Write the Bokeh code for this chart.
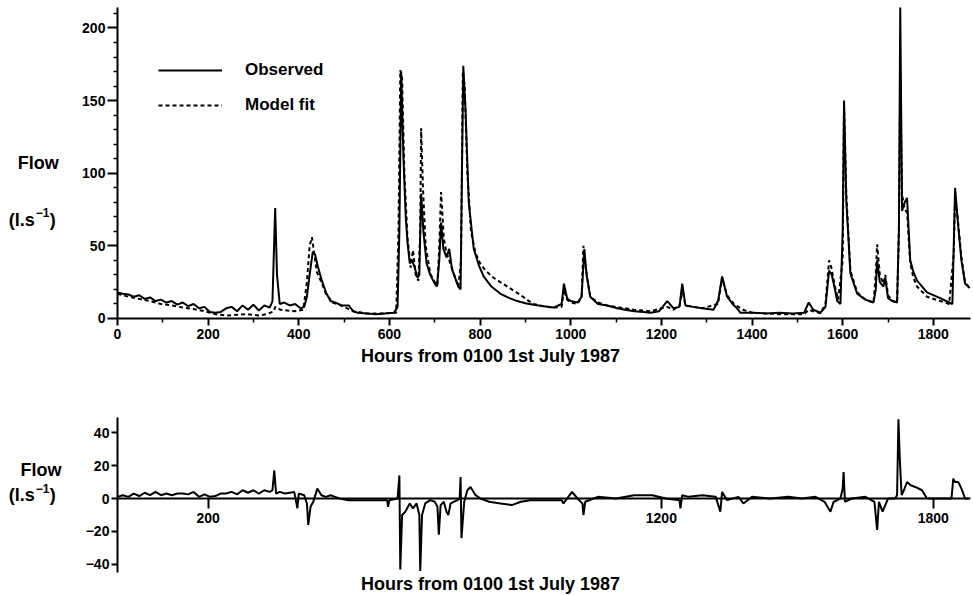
from bokeh.plotting import figure
from bokeh.layouts import column
from bokeh.models import Range1d, Label, Legend, LegendItem, FixedTicker
from bokeh.embed import file_html
from bokeh.resources import INLINE

# ---------------- data ----------------
obs_hours = [0, 12, 24, 36, 48, 60, 72, 84, 96, 108, 120, 132, 144, 156, 168, 180, 192, 204, 216, 228,
             240, 252, 264, 276, 288, 300, 312, 324, 336, 342, 348, 352, 358, 368, 380, 392, 404, 412,
             418, 424, 431, 436, 442, 450, 460, 470, 480, 495, 510, 520, 530, 550, 570, 590, 610, 618,
             622, 626, 631, 636, 640, 645, 650, 656, 662, 666, 670, 675, 682, 690, 700, 705, 710, 714,
             719, 726, 732, 738, 745, 752, 757, 760, 763, 768, 775, 786, 798, 808, 825, 845, 865, 882,
             900, 918, 940, 962, 980, 985, 992, 1000, 1015, 1024, 1030, 1035, 1043, 1060, 1080, 1103,
             1120, 1140, 1160, 1176, 1195, 1213, 1227, 1240, 1246, 1253, 1270, 1290, 1315, 1325, 1334,
             1345, 1357, 1367, 1374, 1400, 1430, 1460, 1490, 1515, 1525, 1535, 1551, 1562, 1570, 1576,
             1583, 1588, 1595, 1600, 1603, 1608, 1617, 1632, 1650, 1668, 1673, 1676, 1682, 1690, 1694,
             1700, 1710, 1720, 1724, 1727, 1731, 1737, 1742, 1749, 1756, 1764, 1786, 1815, 1835, 1842,
             1845, 1848, 1855, 1862, 1870, 1880]
obs_flow = [18, 17, 16.5, 15, 16, 13.5, 14.5, 12, 13, 11, 12, 9.5, 11, 8.5, 10, 7, 8, 4.5, 4, 4.5,
            7, 8, 5, 9, 6, 9.5, 5.5, 9, 7.5, 12, 76, 30, 10, 11, 9, 10, 7, 8,
            15, 30, 46, 44, 36, 27, 18, 12, 11, 9, 9, 5, 4, 3.5, 3, 3.5, 4, 8,
            60, 170, 110, 70, 52, 38, 40, 35, 28, 30, 86, 60, 38, 30, 24, 22, 40, 66,
            48, 42, 48, 34, 28, 22, 20, 100, 174, 143, 80, 48, 36, 29, 22, 17, 14, 12,
            10.5, 9.5, 8.5, 7.5, 10, 24, 14, 12, 11, 15, 48, 30, 15, 10, 9, 7,
            6, 5, 4.5, 4, 5, 12, 7, 8, 24, 9, 8, 7, 6, 12, 29,
            15, 10, 7, 4, 4, 3.5, 4, 3.5, 4, 11, 6, 4, 8, 33, 30,
            20, 12, 10, 60, 150, 81, 31, 17, 13, 11, 20, 40, 25, 22, 28,
            14, 12, 11, 60, 214, 74, 80, 83, 40, 32, 26, 18, 14, 11, 10,
            50, 90, 63, 40, 24, 21]

fit_hours = [0, 24, 48, 72, 96, 120, 144, 168, 192, 216, 240, 264, 288, 312, 330, 345, 348, 360, 390,
             410, 418, 424, 429, 434, 440, 450, 460, 475, 500, 520, 550, 590, 615, 620, 624, 628, 633,
             640, 647, 652, 658, 664, 668, 670, 674, 680, 690, 700, 706, 710, 714, 720, 726, 732, 742,
             752, 758, 762, 766, 772, 780, 790, 800, 812, 830, 850, 870, 890, 908, 918, 940, 962, 980,
             985, 992, 1000, 1015, 1024, 1028, 1033, 1043, 1060, 1080, 1100, 1140, 1176, 1213, 1227,
             1240, 1246, 1253, 1290, 1325, 1334, 1345, 1360, 1380, 1400, 1460, 1515, 1525, 1551, 1562,
             1570, 1575, 1583, 1590, 1600, 1603, 1608, 1617, 1632, 1650, 1668, 1673, 1676, 1682, 1690,
             1694, 1700, 1710, 1720, 1724, 1727, 1731, 1737, 1742, 1749, 1756, 1764, 1786, 1815, 1835,
             1845, 1848, 1855, 1862, 1870, 1880]
fit_flow = [17, 15, 13.5, 12, 10, 9, 7.5, 6.5, 5, 3, 2, 2.5, 3, 2, 3, 5, 8, 6, 5,
            6, 25, 50, 56, 45, 32, 25, 17, 11, 8, 5, 3.5, 3.5, 4, 60, 171, 165, 100,
            55, 35, 47, 30, 26, 60, 131, 90, 50, 31, 25, 23, 50, 87, 55, 45, 40, 31,
            22, 40, 170, 160, 100, 60, 45, 38, 33, 28, 24, 20, 16, 12, 10, 8.5, 7.5, 8,
            20, 13, 11, 10, 15, 50, 35, 15, 11, 9, 8, 6, 5, 8, 6,
            9, 20, 9, 7, 10, 28, 16, 10, 6, 4, 3, 3, 6, 3.5, 10,
            40, 35, 22, 13, 40, 145, 85, 33, 18, 13, 11, 30, 51, 30, 24,
            30, 16, 12, 11, 60, 166, 85, 75, 73, 38, 28, 22, 15, 12, 10,
            45, 85, 65, 42, 25, 21]

res_hours = [0, 12, 24, 36, 48, 60, 72, 84, 96, 108, 120, 132, 144, 156, 168, 180, 192, 204, 216, 228,
             240, 252, 264, 276, 288, 300, 312, 324, 336, 342, 346, 350, 358, 370, 390, 397, 400, 412,
             418, 421, 426, 432, 441, 450, 460, 470, 480, 490, 510, 540, 570, 595, 597, 600, 618, 622,
             624, 628, 635, 645, 652, 660, 666, 668, 672, 679, 690, 700, 706, 709, 713, 720, 726, 730,
             735, 750, 755, 757, 759, 765, 772, 779, 790, 801, 820, 845, 870, 890, 911, 950, 980, 984,
             1003, 1015, 1026, 1028, 1032, 1060, 1100, 1140, 1180, 1210, 1240, 1242, 1246, 1260, 1290,
             1320, 1330, 1334, 1345, 1370, 1381, 1400, 1440, 1480, 1510, 1540, 1560, 1573, 1580, 1595,
             1600, 1602, 1605, 1620, 1650, 1670, 1676, 1680, 1688, 1700, 1715, 1720, 1723, 1726, 1730,
             1735, 1742, 1750, 1760, 1775, 1786, 1800, 1820, 1840, 1844, 1848, 1855, 1862, 1870, 1878]
res_flow = [1, 2, 1, 3, 1.5, 3.5, 2, 4, 2, 3, 2, 3, 3, 2.5, 4, 1, 2.5, 1, 1.5, 3,
            3, 4, 2.5, 5, 3.5, 5, 3, 5, 4, 5, 17, 3, 4, 3, 4, -6, 3, 2,
            -3, -16, -5, -2, 6, 2, 1, 2, 1, 0, -1, -1, -1, -1, -5, -1, 0, 14,
            -43, -10, -8, -3, -6, -3, -10, -44, -10, -3, -1, -2, -5, -22, -4, -2, -8, -10,
            -3, -1, 0, 13, -24, -2, 5, 7, 2, 0, -2, -3, -4, -2, -1, -1, -1, -3,
            4, 0, -3, -10, -2, 1, 0, 2, 2, 0, -1, -6, 2, 1, 2,
            1, -8, 4, -1, 1, -3, 1, 0, 1, 0, 1, -2, -8, -2, 0,
            6, 16, -2, 0, 1, -2, -19, -2, -8, 0, 0, 2, 48, 24, 2,
            5, 10, 8, 7, 5, 0, 0, 0, 0, 12, 10, 10, 6, 0, 0]

top_xticks = [0, 200, 400, 600, 800, 1000, 1200, 1400, 1600, 1800]
top_xminor = [100, 300, 500, 700, 900, 1100, 1300, 1500, 1700]
top_yticks = [0, 50, 100, 150, 200]
top_yminor = [10, 20, 30, 40, 60, 70, 80, 90, 110, 120, 130, 140, 160, 170, 180, 190, 210]
bot_xticks = [200, 1200, 1800]
bot_yticks = [-40, -20, 0, 20, 40]

x_title = "Hours from 0100 1st July 1987"
y_title = "Flow"
unit_open = "(l.s"
unit_sup = "\u22121"
unit_close = ")"
series_names = ["Observed", "Model fit"]

FONT = "Liberation Sans"
TITLE_SIZE = "18px"
TICK_SIZE = "14px"
X_END = 1882


def style_axes(p):
    p.grid.visible = False
    p.outline_line_color = None
    p.background_fill_color = "white"
    p.border_fill_color = "white"
    for ax in p.axis:
        ax.axis_line_color = "black"
        ax.axis_line_width = 2
        ax.major_tick_line_color = "black"
        ax.major_tick_line_width = 2
        ax.minor_tick_line_color = "black"
        ax.minor_tick_line_width = 1.5
        ax.major_label_text_font = FONT
        ax.major_label_text_font_style = "bold"
        ax.major_label_text_font_size = TICK_SIZE
        ax.major_label_text_color = "black"


def text_label(p, x, y, text, size=TITLE_SIZE, align="left", x_offset=0, y_offset=0):
    lab = Label(x=x, y=y, text=text, x_units="data", y_units="data",
                text_font=FONT, text_font_size=size, text_color="black",
                text_font_style="bold",
                text_align=align, text_baseline="middle",
                x_offset=x_offset, y_offset=y_offset)
    p.add_layout(lab)
    return lab


def unit_label(p, x, y):
    text_label(p, x, y, unit_open)
    text_label(p, x, y, unit_sup, size="12px", x_offset=27, y_offset=7)
    text_label(p, x, y, unit_close, x_offset=41)


# ---------------- top panel ----------------
# the frame covers the whole canvas; axes are pinned at 0 so that text can sit outside the data area
p1 = figure(width=973, height=370, x_range=Range1d(-258, 1888.6), y_range=Range1d(-35.8, 218.9),
            output_backend="svg", toolbar_location=None,
            min_border_left=0, min_border_right=0, min_border_top=0, min_border_bottom=0)
r_obs = p1.line(obs_hours, obs_flow, line_color="black", line_width=2)
r_fit = p1.line(fit_hours, fit_flow, line_color="black", line_width=2, line_dash="4 3")
style_axes(p1)
p1.xaxis.fixed_location = 0
p1.yaxis.fixed_location = 0
p1.xaxis.bounds = (0, X_END)
p1.yaxis.bounds = (0, 214)
p1.xaxis.ticker = FixedTicker(ticks=top_xticks, minor_ticks=top_xminor)
p1.yaxis.ticker = FixedTicker(ticks=top_yticks, minor_ticks=top_yminor)
p1.xaxis.major_tick_out = 7
p1.xaxis.major_tick_in = 0
p1.xaxis.minor_tick_out = 4
p1.xaxis.minor_tick_in = 0
p1.xaxis.major_label_standoff = 4
p1.yaxis.major_tick_out = 10
p1.yaxis.major_tick_in = 0
p1.yaxis.minor_tick_out = 4
p1.yaxis.minor_tick_in = 0
p1.yaxis.major_label_standoff = 2

legend = Legend(items=[LegendItem(label=series_names[0], renderers=[r_obs]),
                       LegendItem(label=series_names[1], renderers=[r_fit])],
                location=(158, 255), glyph_width=64, glyph_height=20, label_height=20,
                label_standoff=23, spacing=15, padding=0, margin=0,
                border_line_color=None, background_fill_alpha=0,
                label_text_font=FONT, label_text_font_size="17px", label_text_color="black",
                label_text_font_style="bold")
p1.add_layout(legend, "center")

text_label(p1, 823, -25.5, x_title, align="center")
text_label(p1, -220, 107, y_title)
unit_label(p1, -240, 68)

# ---------------- bottom panel ----------------
p2 = figure(width=973, height=225, x_range=Range1d(-258, 1888.6), y_range=Range1d(-58.8, 77.6),
            output_backend="svg", toolbar_location=None,
            min_border_left=0, min_border_right=0, min_border_top=0, min_border_bottom=0)
p2.line(res_hours, res_flow, line_color="black", line_width=2)
style_axes(p2)
p2.xaxis.fixed_location = 0
p2.yaxis.fixed_location = 0
p2.xaxis.bounds = (0, X_END)
p2.yaxis.bounds = (-45, 49)
p2.xaxis.ticker = FixedTicker(ticks=bot_xticks)
p2.xaxis.major_tick_out = 10
p2.xaxis.major_tick_in = 0
p2.xaxis.minor_tick_line_color = None
p2.xaxis.major_label_standoff = 4
p2.yaxis.ticker = FixedTicker(ticks=bot_yticks)
p2.yaxis.major_tick_out = 6
p2.yaxis.major_tick_in = 0
p2.yaxis.minor_tick_line_color = None
p2.yaxis.major_label_standoff = 2

text_label(p2, 823, -52, x_title, align="center")
text_label(p2, -214, 17.5, y_title)
unit_label(p2, -240, 2)

layout = column(p1, p2, spacing=0)
open("out.html", "w").write(file_html(layout, INLINE))
